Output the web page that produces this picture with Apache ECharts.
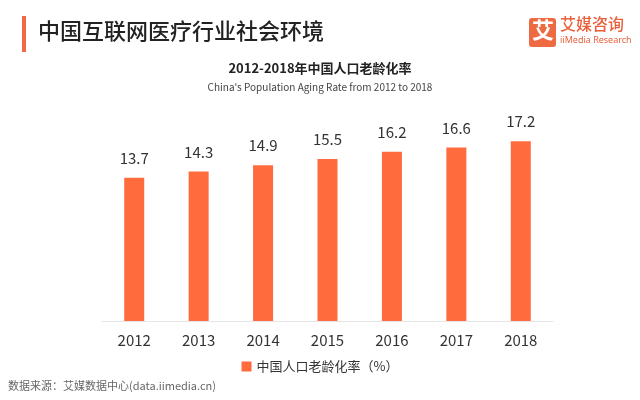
<!DOCTYPE html>
<html><head><meta charset="utf-8">
<script src="https://cdn.jsdelivr.net/npm/echarts@6/dist/echarts.min.js"></script>
<style>html,body{margin:0;padding:0;background:#fff}#c{width:640px;height:400px}</style>
</head><body><div id="c"></div>
<script>
const categories = ['2012','2013','2014','2015','2016','2017','2018'];
const agingRate = [13.7, 14.3, 14.9, 15.5, 16.2, 16.6, 17.2];
const seriesName = '中国人口老龄化率（%）';

const F = '"Noto Sans CJK SC", "Noto Sans", sans-serif';
const chart = echarts.init(document.getElementById('c'));
chart.setOption({
  animation: false,
  textStyle: { fontFamily: F },
  grid: { left: 102, right: 87, top: 112, bottom: 79 },
  legend: {
    bottom: 22, left: 'center', itemWidth: 10, itemHeight: 10, icon: 'rect', itemGap: 6,
    textStyle: { fontSize: 13, color: '#333', fontFamily: F },
    data: [seriesName]
  },
  xAxis: {
    type: 'category', data: categories,
    axisLine: { lineStyle: { color: '#e6e6e6' } },
    axisTick: { show: false },
    axisLabel: { fontSize: 15, color: '#333', margin: 12, fontFamily: F }
  },
  yAxis: { type: 'value', min: 0, max: 20, show: false, splitLine: { show: false } },
  series: [{
    name: seriesName, type: 'bar', data: agingRate, barWidth: 20,
    itemStyle: { color: '#FF6B3D' },
    label: { show: true, position: 'top', distance: 12, fontSize: 15, color: '#333', fontFamily: F }
  }],
  graphic: [
    { type: 'rect', shape: { x: 22, y: 16, width: 4, height: 36 }, style: { fill: '#EF6A45' } },
    { type: 'text', left: 38, top: 20, style: { text: '中国互联网医疗行业社会环境', font: '500 22px "Noto Sans CJK SC"', fill: '#222' } },
    { type: 'rect', shape: { x: 529, y: 18, width: 27, height: 29, r: 3 }, style: { fill: '#EE6A43' } },
    { type: 'text', left: 532, top: 19, style: { text: '艾', font: 'bold 22px "Noto Sans CJK SC"', fill: '#fff' } },
    { type: 'text', left: 560, top: 16, style: { text: '艾媒咨询', font: '500 16px "Noto Sans CJK SC"', fill: '#E8603C' } },
    { type: 'text', left: 560, top: 36, style: { text: 'iiMedia Research', font: '9px "Noto Sans", sans-serif', fill: '#E8603C' } },
    { type: 'text', left: 'center', top: 62, style: { text: '2012-2018年中国人口老龄化率', font: 'bold 13px "Noto Sans CJK SC"', fill: '#222' } },
    { type: 'text', left: 'center', top: 82, style: { text: "China's Population Aging Rate from 2012 to 2018", font: '10px "Noto Sans CJK SC"', fill: '#444' } },
    { type: 'text', left: 8, top: 380, style: { text: '数据来源：艾媒数据中心(data.iimedia.cn)', font: '11px "Noto Sans CJK SC"', fill: '#666' } }
  ]
});
</script></body></html>
